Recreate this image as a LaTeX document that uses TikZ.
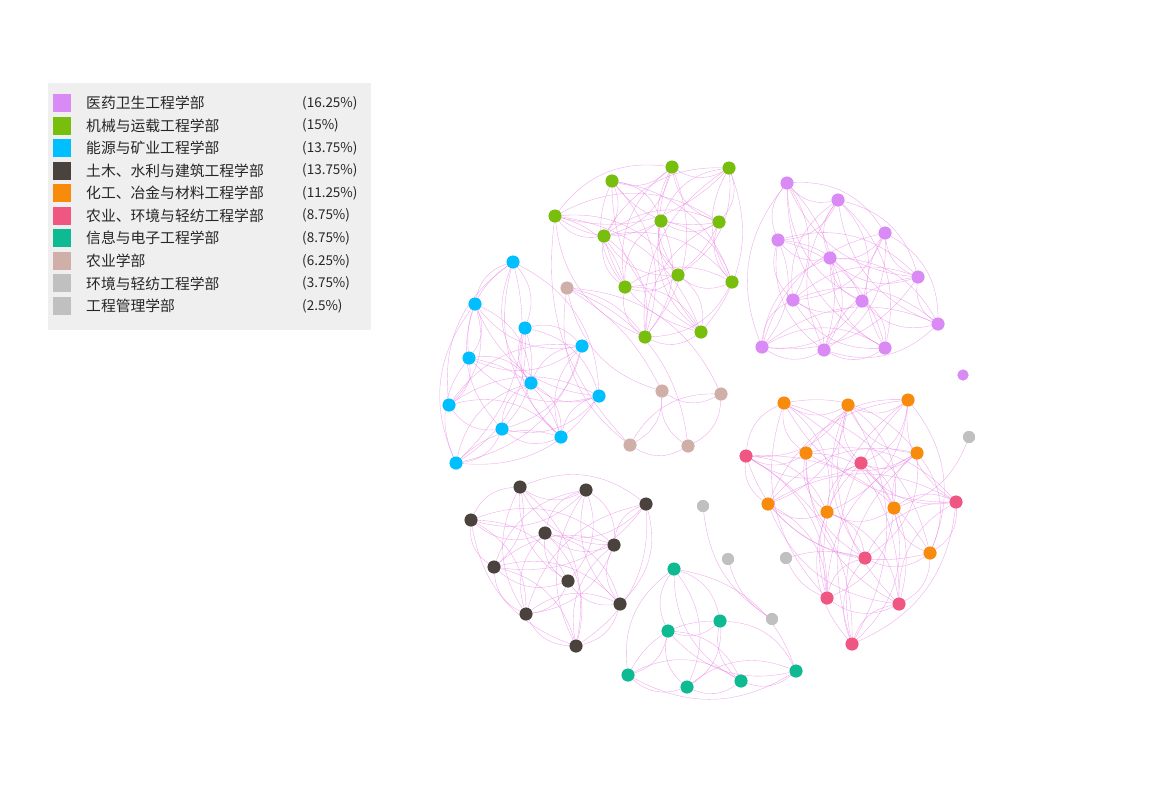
\documentclass[tikz,border=0pt]{standalone}
\usepackage{fontspec}
\newfontfamily\cjk{Noto Sans CJK SC}
\definecolor{cpur}{HTML}{DA8AF5}
\definecolor{cgrn}{HTML}{78BE0C}
\definecolor{cblu}{HTML}{00BFFF}
\definecolor{cdrk}{HTML}{4A423D}
\definecolor{corg}{HTML}{F88A0C}
\definecolor{cpnk}{HTML}{EF5682}
\definecolor{ctea}{HTML}{0DBA92}
\definecolor{ctan}{HTML}{CFAFA8}
\definecolor{cgry}{HTML}{C0C0C0}
\definecolor{cedge}{HTML}{EC86E6}
\definecolor{clegbg}{HTML}{EFEFEF}
\begin{document}
\begin{tikzpicture}[x=1pt,y=-1pt,
  vtx/.style={circle,inner sep=0pt,minimum size=13pt,fill=#1,draw=none},
  edge/.style={draw=cedge,line width=0.35pt,opacity=0.75},
  legsq/.style={rectangle,inner sep=0pt,minimum size=18pt,fill=#1},
  legtxt/.style={anchor=west,inner sep=0pt,font=\cjk\fontsize{14.8}{16}\selectfont,text=black!85},
  legpct/.style={anchor=west,inner sep=0pt,font=\cjk\fontsize{13.5}{15}\selectfont,text=black!85}]
\useasboundingbox (0,0) rectangle (1152,804);
\fill[white] (0,0) rectangle (1152,804);
% legend
\node[fill=clegbg,minimum width=323pt,minimum height=247pt,inner sep=0pt,anchor=north west] (leg) at (48,83) {};
\foreach \k/\c/\t/\p [count=\n] in {
  0/cpur/医药卫生工程学部/(16.25\%),
  1/cgrn/机械与运载工程学部/(15\%),
  2/cblu/能源与矿业工程学部/(13.75\%),
  3/cdrk/土木、水利与建筑工程学部/(13.75\%),
  4/corg/化工、冶金与材料工程学部/(11.25\%),
  5/cpnk/农业、环境与轻纺工程学部/(8.75\%),
  6/ctea/信息与电子工程学部/(8.75\%),
  7/ctan/农业学部/(6.25\%),
  8/cgry/环境与轻纺工程学部/(3.75\%),
  9/cgry/工程管理学部/(2.5\%)} {
  \node[legsq=\c] (sq\n) at (62,103+22.55*\k) {};
  \node[legtxt] (lt\n) at (86,103+22.55*\k) {\t};
  \node[legpct] (lp\n) at (302,103+22.55*\k) {\p};
}
% nodes: purple
\foreach \x/\y [count=\i] in {787/183,838/200,885/233,778/240,830/258,918/277,793/300,862/301,938/324,762/347,824/350,885/348}
  \node[vtx=cpur] (p\i) at (\x,\y) {};
\node[vtx=cpur,minimum size=11pt] (p13) at (963,375) {};
% green
\foreach \x/\y [count=\i] in {672/167,729/168,612/181,555/216,661/221,719/222,604/236,678/275,732/282,625/287,645/337,701/332}
  \node[vtx=cgrn] (g\i) at (\x,\y) {};
% blue
\foreach \x/\y [count=\i] in {513/262,475/304,525/328,469/358,582/346,531/383,599/396,449/405,502/429,561/437,456/463}
  \node[vtx=cblu] (b\i) at (\x,\y) {};
% dark
\foreach \x/\y [count=\i] in {520/487,586/490,646/504,471/520,545/533,614/545,494/567,568/581,620/604,526/614,576/646}
  \node[vtx=cdrk] (d\i) at (\x,\y) {};
% orange (1-9) and pink (10-16)
\foreach \x/\y [count=\i] in {784/403,848/405,908/400,806/453,917/453,768/504,827/512,894/508,930/553}
  \node[vtx=corg] (o\i) at (\x,\y) {};
\foreach \x/\y [count=\i from 10] in {746/456,861/463,956/502,865/558,827/598,899/604,852/644}
  \node[vtx=cpnk] (o\i) at (\x,\y) {};
% teal
\foreach \x/\y [count=\i] in {674/569,668/631,720/621,628/675,687/687,741/681,796/671}
  \node[vtx=ctea] (t\i) at (\x,\y) {};
% tan
\foreach \x/\y [count=\i] in {567/288,662/391,721/394,630/445,688/446}
  \node[vtx=ctan] (a\i) at (\x,\y) {};
% grey
\foreach \x/\y [count=\i] in {703/506,728/559,786/558,772/619}
  \node[vtx=cgry,minimum size=12pt] (e\i) at (\x,\y) {};
\node[vtx=cgry,minimum size=12pt] (e5) at (969,437) {};
% edges
\foreach \cl/\k/\m in {p/12/11, g/12/11, b/11/11, d/11/11, o/16/5, t/7/99, a/5/99} {
  \pgfmathtruncatemacro\km{\k-1}
  \foreach \i in {1,...,\km} {
    \pgfmathtruncatemacro\s{\i+1}
    \foreach \j in {\s,...,\k} {
      \pgfmathtruncatemacro\pp{mod(\i+\j,2)}
      \pgfmathtruncatemacro\sk{mod(\i*7+\j*3,\m)}
      \ifnum\sk>1
        \ifnum\pp=0 \draw[edge] (\cl\i) to[bend left=30] (\cl\j);
        \else \draw[edge] (\cl\i) to[bend right=30] (\cl\j); \fi
      \fi
    }
  }
}
\draw[edge] (a1) to[bend left=20] (g11);
\draw[edge] (a1) to[bend left=15] (a2);
\draw[edge] (g4) to[bend right=25] (a4);
\draw[edge] (e1) to[bend right=25] (e4);
\draw[edge] (e2) to[bend right=20] (e4);
\draw[edge] (e3) to[bend left=15] (o13);
\draw[edge] (e3) to[bend right=20] (o14);
\draw[edge] (e5) to[bend left=25] (o8);
% redraw nodes on top
\foreach \c/\l in {cpur/{p1,p2,p3,p4,p5,p6,p7,p8,p9,p10,p11,p12},cgrn/{g1,g2,g3,g4,g5,g6,g7,g8,g9,g10,g11,g12},cblu/{b1,b2,b3,b4,b5,b6,b7,b8,b9,b10,b11},cdrk/{d1,d2,d3,d4,d5,d6,d7,d8,d9,d10,d11},corg/{o1,o2,o3,o4,o5,o6,o7,o8,o9},cpnk/{o10,o11,o12,o13,o14,o15,o16},ctea/{t1,t2,t3,t4,t5,t6,t7},ctan/{a1,a2,a3,a4,a5}}
  \foreach \v in \l \fill[\c] (\v.center) circle[radius=6.3pt];
\foreach \v in {e1,e2,e3,e4,e5} \fill[cgry] (\v.center) circle[radius=6pt];
\fill[cpur] (p13.center) circle[radius=5.5pt];
\end{tikzpicture}
\end{document}
